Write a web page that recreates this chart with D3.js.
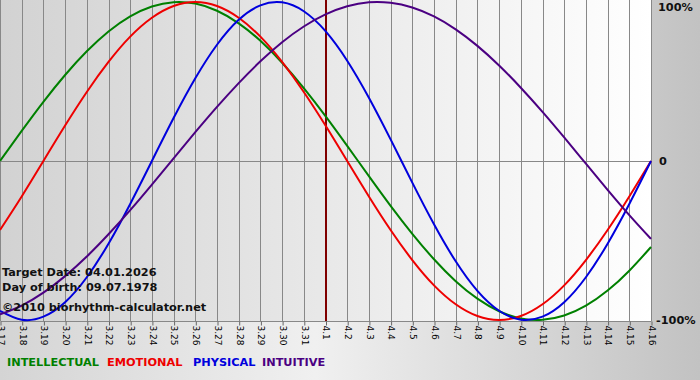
<!DOCTYPE html>
<html><head><meta charset="utf-8">
<script src="https://cdn.jsdelivr.net/npm/d3@7"></script>
<style>html,body{margin:0;padding:0;background:#fff}svg{display:block}</style>
</head><body>
<svg id="chart" width="700" height="380"></svg>
<script>
const days = ["3.17","3.18","3.19","3.20","3.21","3.22","3.23","3.24","3.25","3.26","3.27","3.28","3.29","3.30","3.31",
  "4.1","4.2","4.3","4.4","4.5","4.6","4.7","4.8","4.9","4.10","4.11","4.12","4.13","4.14","4.15","4.16"];
const intellectual = [0,18.9,37.2,54.1,69.0,81.5,91.0,97.2,99.9,99.0,94.5,86.6,75.6,61.8,45.8,28.2,9.5,-9.5,-28.2,-45.8,-61.8,-75.6,-86.6,-94.5,-99.0,-99.9,-97.2,-91.0,-81.5,-69.0,-54.1];
const emotional = [-43.4,-22.3,0,22.3,43.4,62.3,78.2,90.1,97.5,100,97.5,90.1,78.2,62.3,43.4,22.3,0,-22.3,-43.4,-62.3,-78.2,-90.1,-97.5,-100,-97.5,-90.1,-78.2,-62.3,-43.4,-22.3,0];
const physical = [-94.2,-99.8,-97.9,-88.8,-73.1,-52.0,-27.0,0,27.0,52.0,73.1,88.8,97.9,99.8,94.2,81.7,63.1,39.8,13.6,-13.6,-39.8,-63.1,-81.7,-94.2,-99.8,-97.9,-88.8,-73.1,-52.0,-27.0,0];
const intuitive = [-96.5,-90.9,-82.8,-72.4,-60.1,-46.1,-30.9,-14.8,1.7,18.1,34.0,49.0,62.7,74.7,84.6,92.2,97.3,99.8,99.5,96.5,90.9,82.8,72.4,60.1,46.1,30.9,14.8,-1.7,-18.1,-34.0,-49.0];
const seriesNames = ["INTELLECTUAL","EMOTIONAL","PHYSICAL","INTUITIVE"];
const seriesColors = ["#008000","#ee0000","#0000dd","#4b0082"];
const yTickValues = [100,0,-100];
const yTickLabels = ["100%","0","-100%"];
const targetDay = "4.1";
const infoLines = ["Target Date: 04.01.2026","Day of birth: 09.07.1978","\u00a92010 biorhythm-calculator.net"];

const W = 700, H = 380, plotW = 651, plotH = 321;
const svg = d3.select("#chart");
const defs = svg.append("defs");
const bgGrad = defs.append("linearGradient").attr("id","bg").attr("x1","0").attr("x2","1").attr("y1","0").attr("y2","0");
bgGrad.append("stop").attr("offset","0").attr("stop-color","#d4d4d4");
bgGrad.append("stop").attr("offset","0.45").attr("stop-color","#f0f0f0");
bgGrad.append("stop").attr("offset","1").attr("stop-color","#c2c2c2");
const plGrad = defs.append("linearGradient").attr("id","pl").attr("x1","0").attr("x2","1").attr("y1","0").attr("y2","0");
plGrad.append("stop").attr("offset","0").attr("stop-color","#d2d2d2");
plGrad.append("stop").attr("offset","1").attr("stop-color","#ffffff");

svg.append("rect").attr("width",W).attr("height",H).attr("fill","url(#bg)");
svg.append("rect").attr("x",0).attr("y",0).attr("width",plotW).attr("height",plotH).attr("fill","url(#pl)");

const x = d3.scalePoint().domain(days).range([0, plotW]);
const y = d3.scaleLinear().domain([-100,100]).range([320, 2]);
const px = v => Math.round(v) + 0.5;

// vertical grid
svg.append("g").selectAll("line").data(days).join("line")
  .attr("x1", d => px(x(d))).attr("x2", d => px(x(d)))
  .attr("y1", 0).attr("y2", plotH)
  .attr("stroke", "#888").attr("stroke-width", 1);
// zero line
svg.append("line").attr("x1",0).attr("x2",plotW).attr("y1",px(y(0))).attr("y2",px(y(0)))
  .attr("stroke","#888").attr("stroke-width",1);

// bottom axis
const xAxis = d3.axisBottom(x).tickSize(4).tickPadding(2);
const ax = svg.append("g").attr("transform", `translate(0.5,${plotH}.5)`).call(xAxis);
ax.select(".domain").attr("stroke","#888").attr("d", `M0,0H${plotW}`);
ax.selectAll(".tick line").attr("stroke","#666");
ax.selectAll(".tick text")
  .attr("font-family","'DejaVu Sans', Verdana, sans-serif").attr("font-size","9px").attr("fill","#000")
  .attr("text-anchor","start")
  .attr("transform","rotate(90)")
  .attr("x", 4).attr("y", 0).attr("dy","0.35em");

// target marker
svg.append("line").attr("x1", x(targetDay)+0.5).attr("x2", x(targetDay)+0.5)
  .attr("y1",0).attr("y2",plotH).attr("stroke","#800000").attr("stroke-width",2);

// curves
const allSeries = [intellectual, emotional, physical, intuitive];
const line = d3.line().x((v,i) => x(days[i])).y(v => y(v)).curve(d3.curveNatural);
const curves = svg.append("g");
allSeries.forEach((s, k) => {
  curves.append("path").attr("d", line(s)).attr("fill","none")
    .attr("stroke", seriesColors[k]).attr("stroke-width", 2);
});

// right labels
const font = "'DejaVu Sans', Verdana, sans-serif";
const labelX = [658, 659, 656];
const labelY = [7, y(0), y(-100)];
svg.append("g").selectAll("text").data(yTickValues).join("text")
  .attr("x", (d,i) => labelX[i])
  .attr("y", (d,i) => labelY[i]).attr("dy","0.35em")
  .attr("font-family", font).attr("font-weight","bold").attr("font-size","11.3px").attr("fill","#111")
  .text((d,i) => yTickLabels[i]);

// info text
const infoY = [276, 291, 311];
svg.append("g").selectAll("text").data(infoLines).join("text")
  .attr("x", 2).attr("y", (d,i) => infoY[i])
  .attr("font-family", font).attr("font-weight","bold").attr("font-size","11.3px").attr("fill","#111")
  .text(d => d);

// legend
const legendX = [7, 107, 193, 262];
svg.append("g").selectAll("text").data(seriesNames).join("text")
  .attr("x", (d,i) => legendX[i]).attr("y", 366)
  .attr("font-family", font).attr("font-weight","bold").attr("font-size","11.3px")
  .attr("fill", (d,i) => seriesColors[i])
  .text(d => d);
</script>
</body></html>
